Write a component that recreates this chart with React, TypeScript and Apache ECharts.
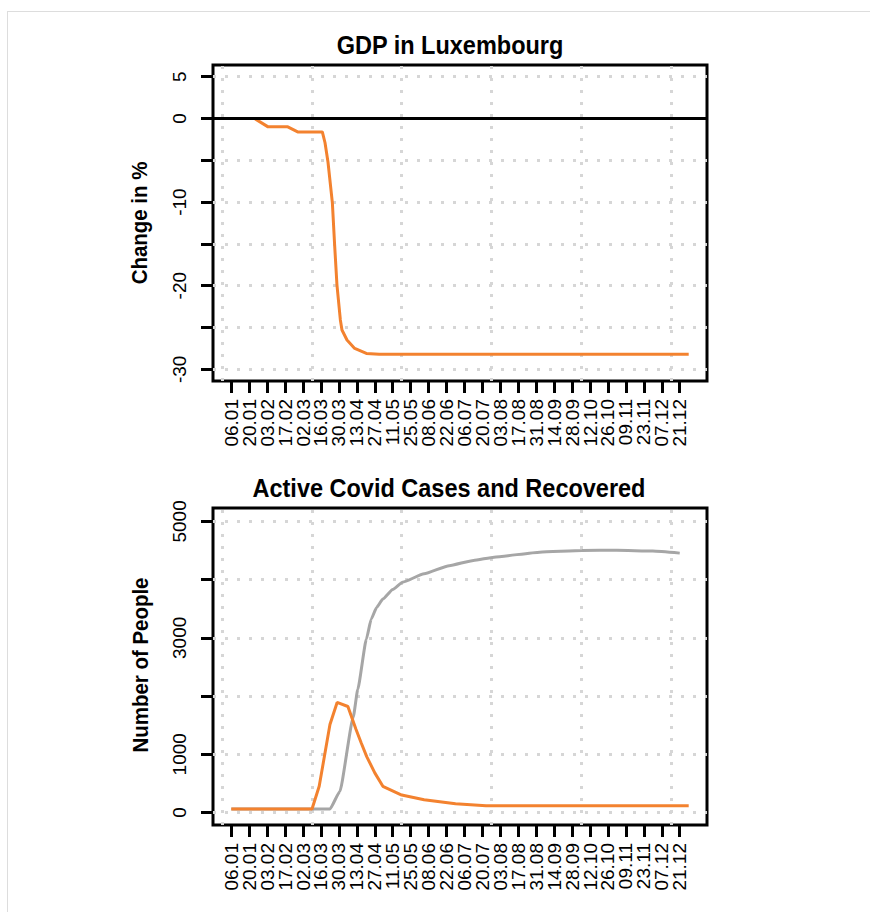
import React, { useEffect, useRef } from "react";
import * as echarts from "echarts";

// ---- Data (x in weeks since 06.01.2020 = week 1) ----
const dateLabels = [
  "06.01", "20.01", "03.02", "17.02", "02.03", "16.03", "30.03", "13.04", "27.04",
  "11.05", "25.05", "08.06", "22.06", "06.07", "20.07", "03.08", "17.08", "31.08",
  "14.09", "28.09", "12.10", "26.10", "09.11", "23.11", "07.12", "21.12",
];
const labelWeeks = dateLabels.map((_, i) => 1 + 2 * i);
const labelWeeksA = labelWeeks.filter((_, i) => i % 2 === 0);
const labelWeeksB = labelWeeks.filter((_, i) => i % 2 === 1);
const gridWeeks = [0, 10, 20, 30, 40, 50];

const gdpWeeks = [1, 3.6, 5.1, 7.3, 8.4, 11.15, 11.45, 11.78, 12.27, 12.52, 12.78, 13.16, 13.34, 13.9, 14.76, 16.06, 17.5, 52];
const gdpChange = [0, 0, -1.0, -1.0, -1.6, -1.6, -2.9, -5.2, -10.1, -15.1, -19.9, -24.1, -25.3, -26.5, -27.5, -28.1, -28.2, -28.2];
const gdpTicks = [-30, -25, -20, -15, -10, -5, 0, 5];
const gdpLabels = [-30, -20, -10, 0, 5];

const activeWeeks = [1, 10, 10.8, 12.0, 12.8, 14.0, 14.9, 15.5, 16.1, 17.0, 17.9, 20.0, 22.5, 26, 29.4, 52];
const activeCases = [60, 60, 450, 1510, 1890, 1820, 1430, 1190, 960, 680, 450, 300, 220, 150, 115, 115];
const recoveredWeeks = [1, 12.0, 13.1, 14.6, 15.1, 16.06, 16.6, 17.2, 17.9, 19.0, 20.1, 22.5, 25.3, 28, 30.3, 35.4, 40.1, 44, 48, 51];
const recovered = [60, 60, 360, 1640, 2115, 2978, 3322, 3520, 3667, 3830, 3955, 4100, 4240, 4330, 4386, 4472, 4500, 4505, 4490, 4455];
const peopleTicks = [0, 1000, 2000, 3000, 4000, 5000];
const peopleLabels = [0, 1000, 3000, 5000];

const ORANGE = "#F3822F";
const GRAY = "#A6A6A6";
const DOT = "#D6D6D6";
const FONT = "Liberation Sans, Arial, sans-serif";

const pairs = (xs: number[], ys: number[]) => xs.map((x, i) => [x, ys[i]]);

function xAxisCfg(gridIndex: number, labels: number[], showTicks: boolean) {
  return {
    type: "value",
    gridIndex,
    position: "bottom",
    min: -1.04,
    max: 54.04,
    axisLine: { show: false, onZero: false },
    splitLine: { show: false },
    axisTick: { show: showTicks, customValues: labelWeeks, length: 12, lineStyle: { color: "#000", width: 3 } },
    axisLabel: {
      customValues: labels,
      showMinLabel: true,
      showMaxLabel: true,
      hideOverlap: false,
      rotate: 90,
      margin: 18,
      fontSize: 19,
      color: "#000",
      fontFamily: FONT,
      formatter: (v: number) => {
        const idx = Math.round((v - 1) / 2);
        return dateLabels[idx] ?? "";
      },
    },
  };
}

function yAxisCfg(gridIndex: number, min: number, max: number, ticks: number[], labels: number[]) {
  return {
    type: "value",
    gridIndex,
    min,
    max,
    axisLine: { show: false, onZero: false },
    splitLine: { show: false },
    axisTick: { show: true, customValues: ticks, length: 12, lineStyle: { color: "#000", width: 3 } },
    axisLabel: {
      customValues: labels,
      showMinLabel: true,
      showMaxLabel: true,
      rotate: 90,
      margin: 24,
      align: "center",
      verticalAlign: "bottom",
      fontSize: 19,
      color: "#000",
      fontFamily: FONT,
      formatter: (v: number) => String(v),
    },
  };
}

function gridSeries(idx: number, yVals: number[]) {
  return {
    type: "line",
    xAxisIndex: idx,
    yAxisIndex: idx,
    data: [[0, yVals[0]]],
    showSymbol: false,
    symbol: "none",
    lineStyle: { opacity: 0, width: 0 },
    z: 1,
    silent: true,
    markLine: {
      z: 1,
      silent: true,
      symbol: ["none", "none"],
      label: { show: false },
      lineStyle: { type: [3, 9], color: DOT, width: 3 },
      emphasis: { disabled: true },
      data: [...gridWeeks.map((v) => ({ xAxis: v })), ...yVals.map((v) => ({ yAxis: v }))],
    },
  };
}

function textEl(text: string, x: number, y: number, size: number, rot: number, sx: number) {
  return {
    type: "text",
    x,
    y,
    rotation: rot,
    scaleX: sx,
    style: {
      text,
      fontSize: size,
      fontWeight: "bold",
      fontFamily: FONT,
      fill: "#000",
      align: "center",
      verticalAlign: "middle",
    },
  };
}

export default function App() {
  const ref = useRef<HTMLDivElement>(null);
  useEffect(() => {
    if (!ref.current) return;
    const chart = echarts.init(ref.current, null, { renderer: "svg" });
    const option: any = {
      animation: false,
      backgroundColor: "#fff",
      grid: [
        { left: 213, top: 65, width: 494, height: 316, show: true, borderColor: "#000", borderWidth: 3, backgroundColor: "transparent", outerBoundsMode: "none" },
        { left: 213, top: 508, width: 494, height: 317, show: true, borderColor: "#000", borderWidth: 3, backgroundColor: "transparent", outerBoundsMode: "none" },
      ],
      xAxis: [
        xAxisCfg(0, labelWeeksA, true),
        xAxisCfg(1, labelWeeksA, true),
        xAxisCfg(0, labelWeeksB, false),
        xAxisCfg(1, labelWeeksB, false),
      ],
      yAxis: [
        yAxisCfg(0, -31.4, 6.4, gdpTicks, gdpLabels),
        yAxisCfg(1, -215, 5230, peopleTicks, peopleLabels),
      ],
      series: [
        gridSeries(0, gdpTicks),
        gridSeries(1, peopleTicks),
        {
          type: "line",
          xAxisIndex: 0,
          yAxisIndex: 0,
          data: pairs(gdpWeeks, gdpChange),
          showSymbol: false,
          symbol: "none",
          lineStyle: { color: ORANGE, width: 3 },
          z: 3,
        },
        {
          type: "line",
          xAxisIndex: 0,
          yAxisIndex: 0,
          data: [[-1.04, 0], [54.04, 0]],
          showSymbol: false,
          symbol: "none",
          lineStyle: { color: "#000", width: 3 },
          z: 4,
        },
        {
          type: "line",
          xAxisIndex: 1,
          yAxisIndex: 1,
          data: pairs(recoveredWeeks, recovered),
          showSymbol: false,
          symbol: "none",
          smooth: 0.15,
          smoothMonotone: "x",
          lineStyle: { color: GRAY, width: 3 },
          z: 3,
        },
        {
          type: "line",
          xAxisIndex: 1,
          yAxisIndex: 1,
          data: pairs(activeWeeks, activeCases),
          showSymbol: false,
          symbol: "none",
          lineStyle: { color: ORANGE, width: 3 },
          z: 4,
        },
      ],
      graphic: [
        { type: "line", shape: { x1: 7, y1: 11.5, x2: 870, y2: 11.5 }, style: { stroke: "#DDDDDD", lineWidth: 1 } },
        { type: "line", shape: { x1: 7.5, y1: 11, x2: 7.5, y2: 912 }, style: { stroke: "#DDDDDD", lineWidth: 1 } },
        textEl("GDP in Luxembourg", 450, 45, 25, 0, 0.94),
        textEl("Active Covid Cases and Recovered", 449, 488, 25, 0, 0.94),
        textEl("Change in %", 140, 223, 22, Math.PI / 2, 0.93),
        textEl("Number of People", 141, 665, 22, Math.PI / 2, 0.93),
      ],
    };
    chart.setOption(option);
    return () => chart.dispose();
  }, []);
  return (
    <div
      ref={ref}
      style={{ position: "fixed", left: 0, top: 0, width: 870, height: 912, background: "#fff" }}
    />
  );
}
